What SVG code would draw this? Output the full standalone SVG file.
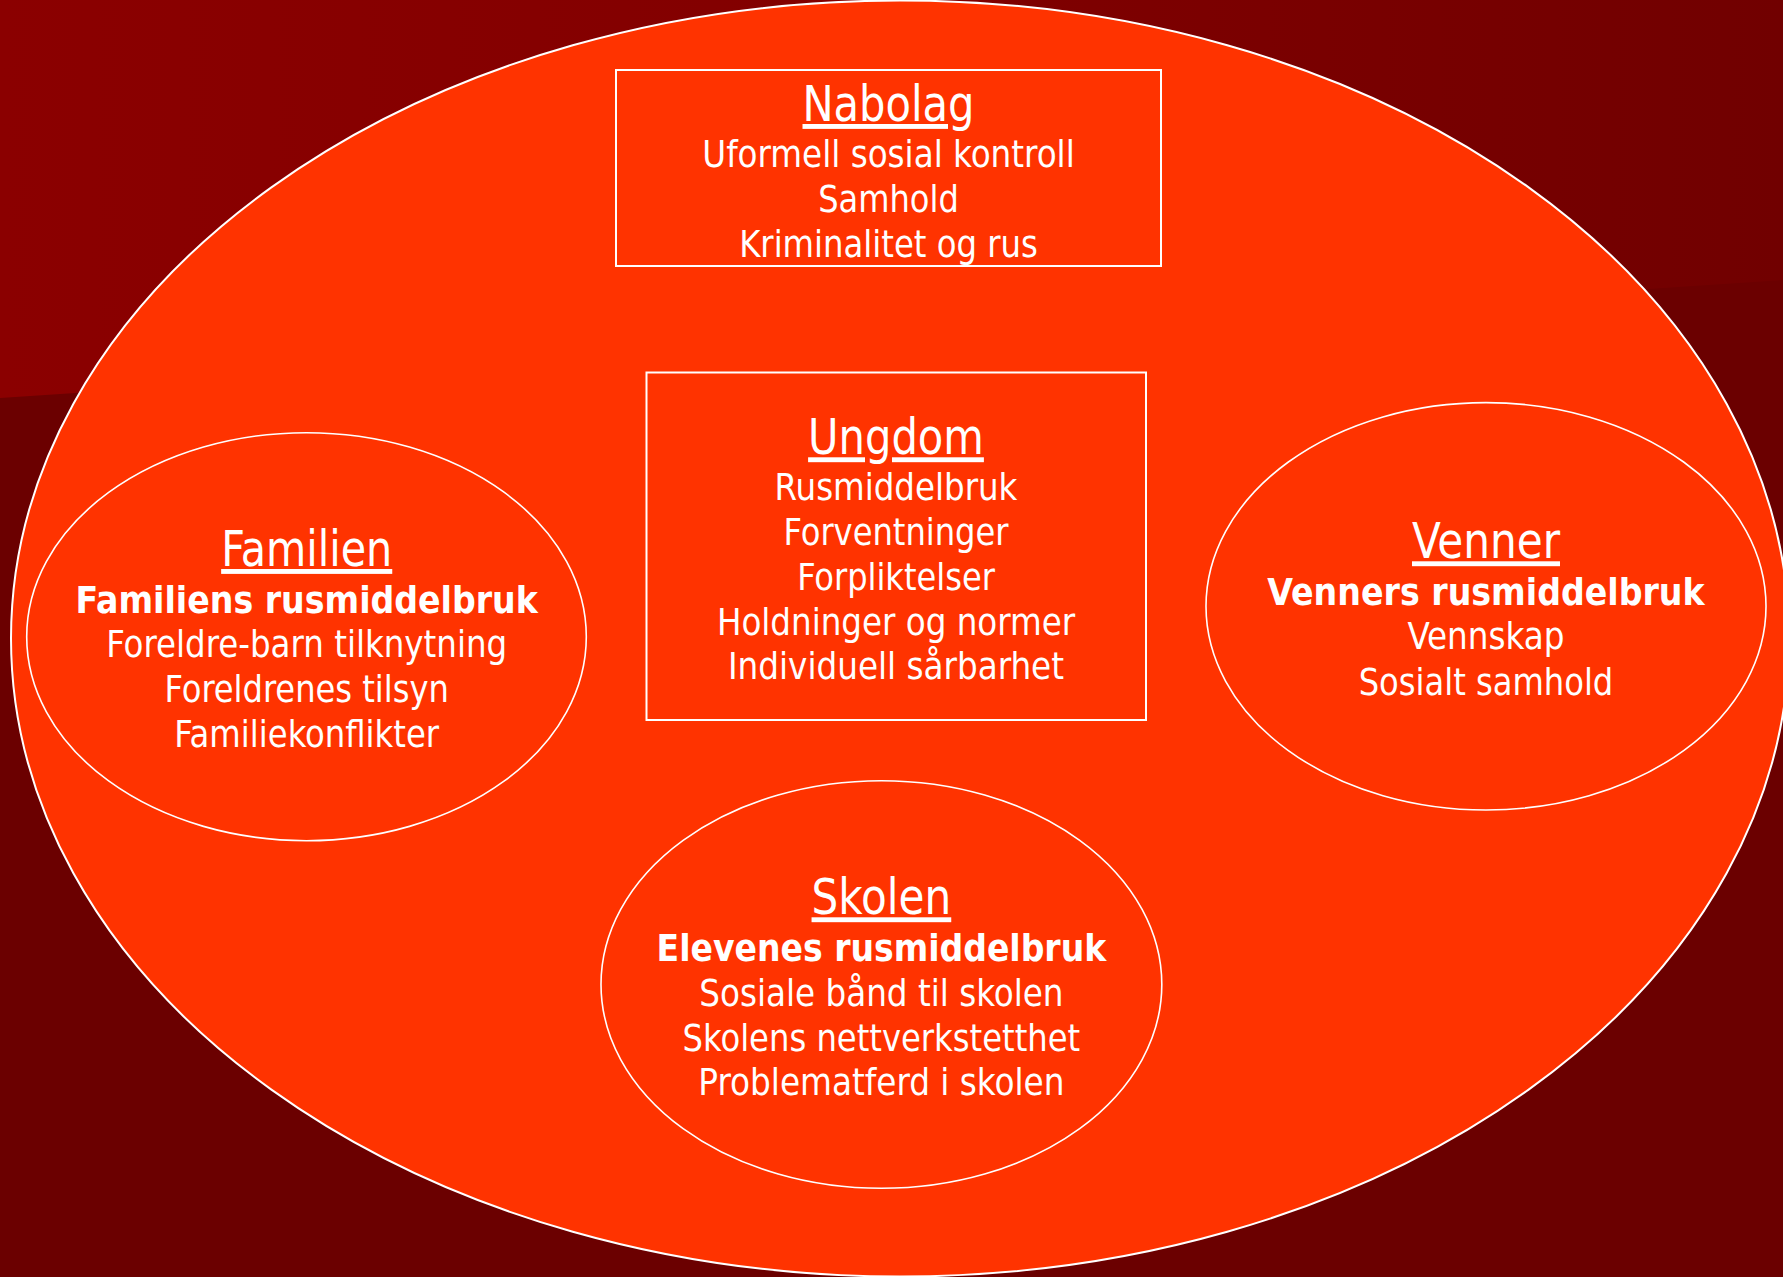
<svg xmlns="http://www.w3.org/2000/svg" width="1783" height="1277" viewBox="0 0 1783 1277">
<defs>
<linearGradient id="topband" x1="0" y1="0" x2="1" y2="0">
<stop offset="0" stop-color="#8b0000"/>
<stop offset="0.45" stop-color="#820000"/>
<stop offset="1" stop-color="#710000"/>
</linearGradient>
<style>
.shape{fill:#ff3300;stroke:#ffffff}
.t{fill:#ffffff;font-family:"DejaVu Sans Condensed","DejaVu Sans",Tahoma,sans-serif;font-stretch:condensed;text-anchor:middle;font-size:38px}
.h{font-size:49px;text-decoration:underline}
.b{font-weight:bold}
</style>
</defs>
<rect x="0" y="0" width="1783" height="1277" fill="#6b0000"/>
<polygon points="0,0 1783,0 1783,280 0,398" fill="url(#topband)"/>
<g id="outer">
<ellipse class="shape" cx="900" cy="638.5" rx="889" ry="638" stroke-width="2"/>
</g>
<g id="connectors"></g>
<g id="nabolag">
<rect class="shape" x="616" y="70" width="545" height="196" stroke-width="2"/>
<text class="t h" x="888.5" y="121" textLength="172" lengthAdjust="spacingAndGlyphs">Nabolag</text>
<text class="t" x="888.5" y="166.7" textLength="372.5" lengthAdjust="spacingAndGlyphs">Uformell sosial kontroll</text>
<text class="t" x="888.5" y="211.5" textLength="140.6" lengthAdjust="spacingAndGlyphs">Samhold</text>
<text class="t" x="888.5" y="256.7" textLength="298.6" lengthAdjust="spacingAndGlyphs">Kriminalitet og rus</text>
</g>
<g id="ungdom">
<rect class="shape" x="646.5" y="372.5" width="499.5" height="347.5" stroke-width="2"/>
<text class="t h" x="896" y="454.3" textLength="175.8" lengthAdjust="spacingAndGlyphs">Ungdom</text>
<text class="t" x="896" y="500" textLength="242.8" lengthAdjust="spacingAndGlyphs">Rusmiddelbruk</text>
<text class="t" x="896" y="545" textLength="224.9" lengthAdjust="spacingAndGlyphs">Forventninger</text>
<text class="t" x="896" y="590" textLength="197.7" lengthAdjust="spacingAndGlyphs">Forpliktelser</text>
<text class="t" x="896" y="635" textLength="358.2" lengthAdjust="spacingAndGlyphs">Holdninger og normer</text>
<text class="t" x="896" y="679" textLength="336" lengthAdjust="spacingAndGlyphs">Individuell sårbarhet</text>
</g>
<g id="familien">
<ellipse class="shape" cx="306.5" cy="636.7" rx="279.8" ry="204" stroke-width="1.6"/>
<text class="t h" x="306.7" y="566" textLength="171.1" lengthAdjust="spacingAndGlyphs">Familien</text>
<text class="t b" x="306.7" y="612.7" textLength="462.3" lengthAdjust="spacingAndGlyphs">Familiens rusmiddelbruk</text>
<text class="t" x="306.7" y="657.3" textLength="401" lengthAdjust="spacingAndGlyphs">Foreldre-barn tilknytning</text>
<text class="t" x="306.7" y="702.3" textLength="284.3" lengthAdjust="spacingAndGlyphs">Foreldrenes tilsyn</text>
<text class="t" x="306.7" y="746.7" textLength="264.8" lengthAdjust="spacingAndGlyphs">Familiekonflikter</text>
</g>
<g id="venner">
<ellipse class="shape" cx="1486" cy="606.3" rx="280" ry="203.7" stroke-width="1.6"/>
<text class="t h" x="1486" y="558.3" textLength="148" lengthAdjust="spacingAndGlyphs">Venner</text>
<text class="t b" x="1486" y="605" textLength="437.3" lengthAdjust="spacingAndGlyphs">Venners rusmiddelbruk</text>
<text class="t" x="1486" y="649.3" textLength="157" lengthAdjust="spacingAndGlyphs">Vennskap</text>
<text class="t" x="1486" y="695" textLength="254.6" lengthAdjust="spacingAndGlyphs">Sosialt samhold</text>
</g>
<g id="skolen">
<ellipse class="shape" cx="881.4" cy="984.5" rx="280.4" ry="203.8" stroke-width="1.6"/>
<text class="t h" x="881.4" y="914.3" textLength="139.7" lengthAdjust="spacingAndGlyphs">Skolen</text>
<text class="t b" x="881.4" y="960.7" textLength="449.7" lengthAdjust="spacingAndGlyphs">Elevenes rusmiddelbruk</text>
<text class="t" x="881.4" y="1006" textLength="364.3" lengthAdjust="spacingAndGlyphs">Sosiale bånd til skolen</text>
<text class="t" x="881.4" y="1050.7" textLength="397.6" lengthAdjust="spacingAndGlyphs">Skolens nettverkstetthet</text>
<text class="t" x="881.4" y="1095" textLength="366.2" lengthAdjust="spacingAndGlyphs">Problematferd i skolen</text>
</g>
</svg>
